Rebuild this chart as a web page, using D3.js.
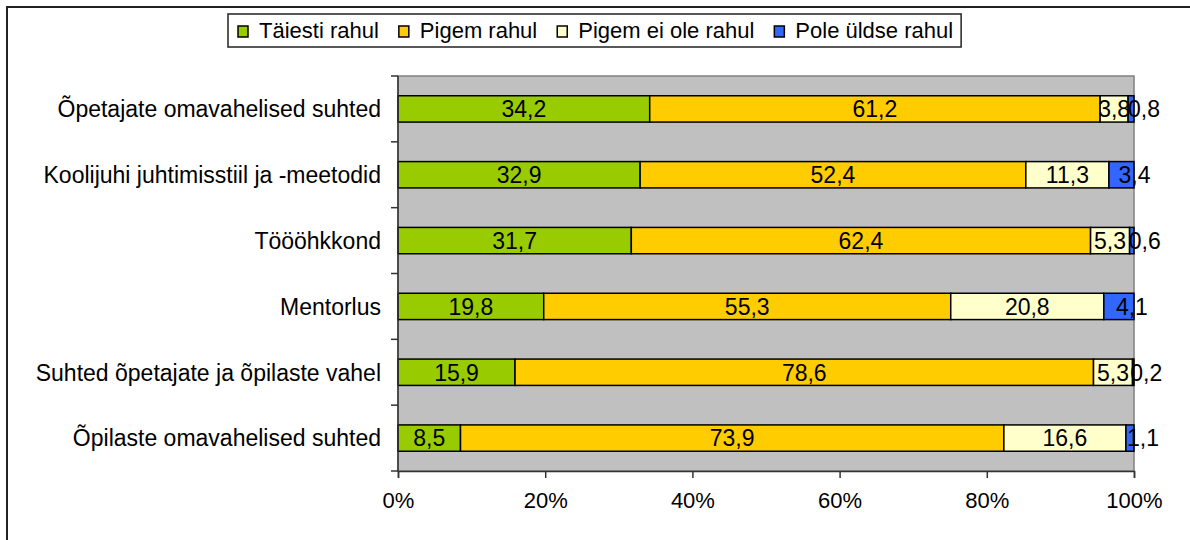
<!DOCTYPE html>
<html>
<head>
<meta charset="utf-8">
<script src="https://cdn.jsdelivr.net/npm/d3@7"></script>
<style>
  body { margin: 0; background: #fff; }
  svg { display: block; font-family: "Liberation Sans", Arial, sans-serif; }
</style>
</head>
<body>
<div id="chart"></div>
<script>
// data
categories = ["Õpetajate omavahelised suhted", "Koolijuhi juhtimisstiil ja -meetodid", "Töööhkkond",
   "Mentorlus", "Suhted õpetajate ja õpilaste vahel", "Õpilaste omavahelised suhted"]
seriesNames = ["Täiesti rahul", "Pigem rahul", "Pigem ei ole rahul", "Pole üldse rahul"]
taiestiRahul = [34.2, 32.9, 31.7, 19.8, 15.9, 8.5]
pigemRahul = [61.2, 52.4, 62.4, 55.3, 78.6, 73.9]
pigemEiOleRahul = [3.8, 11.3, 5.3, 20.8, 5.3, 16.6]
poleUldseRahul = [0.8, 3.4, 0.6, 4.1, 0.2, 1.1]
xTicks = [0, 0.2, 0.4, 0.6, 0.8, 1]
colors = ["#99CC00", "#FFCC00", "#FFFFCC", "#3366FF"]

width = 1190
height = 540
margin = ({ top: 76, right: 56, bottom: 69, left: 398 })

rows = categories.map((c, i) => ({
   cat: c,
   "Täiesti rahul": taiestiRahul[i],
   "Pigem rahul": pigemRahul[i],
   "Pigem ei ole rahul": pigemEiOleRahul[i],
   "Pole üldse rahul": poleUldseRahul[i]
}))

series = d3.stack()
   .keys(seriesNames)
   .offset(d3.stackOffsetExpand)(rows)

x = d3.scaleLinear()
   .domain([0, 1])
   .range([margin.left, width - margin.right])

y = d3.scaleBand()
   .domain(categories)
   .range([margin.top, height - margin.bottom])
   .paddingInner(0.6)
   .paddingOuter(0.3)

color = d3.scaleOrdinal().domain(seriesNames).range(colors)

const svg = d3.create("svg")
   .attr("width", width)
   .attr("height", height)
   .attr("viewBox", [0, 0, width, height])

// attach early so text lengths can be measured
d3.select("#chart").node().append(svg.node())

// outer chart border (runs off the right and bottom edge)
svg.append("rect")
   .attr("x", 7).attr("y", 7)
   .attr("width", 1300).attr("height", 700)
   .attr("fill", "none")
   .attr("stroke", "#222")
   .attr("stroke-width", 2)

// plot area
svg.append("rect")
   .attr("x", x(0)).attr("y", margin.top)
   .attr("width", x(1) - x(0))
   .attr("height", height - margin.bottom - margin.top)
   .attr("fill", "#C0C0C0")
   .attr("stroke", "#808080")
   .attr("stroke-width", 1.5)

// bars
svg.append("g")
   .selectAll("g")
   .data(series)
   .join("g")
   .attr("fill", d => color(d.key))
   .selectAll("rect")
   .data(d => d)
   .join("rect")
   .attr("x", d => x(d[0]))
   .attr("y", d => y(d.data.cat))
   .attr("width", d => x(d[1]) - x(d[0]))
   .attr("height", y.bandwidth())
   .attr("stroke", "#000")
   .attr("stroke-width", 1.5)

// value labels (last series is pushed a bit right, like the original)
svg.append("g")
   .attr("font-size", 23)
   .attr("fill", "#000")
   .attr("text-anchor", "middle")
   .selectAll("g")
   .data(series)
   .join("g")
   .selectAll("text")
   .data(d => d.map(v => ({ v: v, val: v.data[d.key], last: d.index == seriesNames.length - 1 })))
   .join("text")
   .attr("x", d => (x(d.v[0]) + x(d.v[1])) / 2)
   .attr("y", d => y(d.v.data.cat) + y.bandwidth() / 2)
   .attr("dx", d => d.last ? 13 : 0)
   .attr("dy", "0.36em")
   .text(d => String(d.val).replace(".", ","))

// y axis: line, ticks between categories, labels
const yg = svg.append("g")
yg.append("line")
   .attr("x1", x(0)).attr("x2", x(0))
   .attr("y1", margin.top).attr("y2", height - margin.bottom)
   .attr("stroke", "#333").attr("stroke-width", 1.5)
const step = y.step()
yg.selectAll("line.tick")
   .data(d3.range(categories.length + 1))
   .join("line")
   .attr("class", "tick")
   .attr("x1", x(0) - 7).attr("x2", x(0))
   .attr("y1", i => margin.top + i * step)
   .attr("y2", i => margin.top + i * step)
   .attr("stroke", "#333").attr("stroke-width", 1.5)
yg.selectAll("text")
   .data(categories)
   .join("text")
   .attr("x", x(0) - 17)
   .attr("y", d => y(d) + y.bandwidth() / 2)
   .attr("dy", "0.36em")
   .attr("text-anchor", "end")
   .attr("font-size", 23)
   .text(d => d)

// x axis
xAxis = g => g
   .attr("transform", `translate(0,${height - margin.bottom})`)
   .call(d3.axisBottom(x).tickValues(xTicks).tickFormat(d3.format(".0%")).tickSize(7).tickPadding(14))
   .call(g => g.select(".domain").attr("stroke", "#333").attr("stroke-width", 1.5))
   .call(g => g.selectAll(".tick line").attr("stroke", "#333").attr("stroke-width", 1.5))
   .call(g => g.selectAll(".tick text")
      .attr("font-size", 22)
      .attr("font-family", "'Liberation Sans', Arial, sans-serif")
      .attr("fill", "#000"))
svg.append("g").call(xAxis)

// legend
const legend = svg.append("g")
const legendBox = legend.append("rect")
   .attr("y", 14).attr("height", 33)
   .attr("fill", "#fff")
   .attr("stroke", "#222").attr("stroke-width", 1.5)
let lx = 238
seriesNames.forEach((name, i) => {
   legend.append("rect")
      .attr("x", lx).attr("y", 26)
      .attr("width", 10).attr("height", 11)
      .attr("fill", colors[i])
      .attr("stroke", "#000").attr("stroke-width", 1.5)
   const t = legend.append("text")
      .attr("x", lx + 21).attr("y", 38)
      .attr("font-size", 22)
      .text(name)
   lx = lx + 21 + t.node().getComputedTextLength() + 20
})
legendBox.attr("x", 228).attr("width", lx - 228 - 12)
</script>
</body>
</html>
